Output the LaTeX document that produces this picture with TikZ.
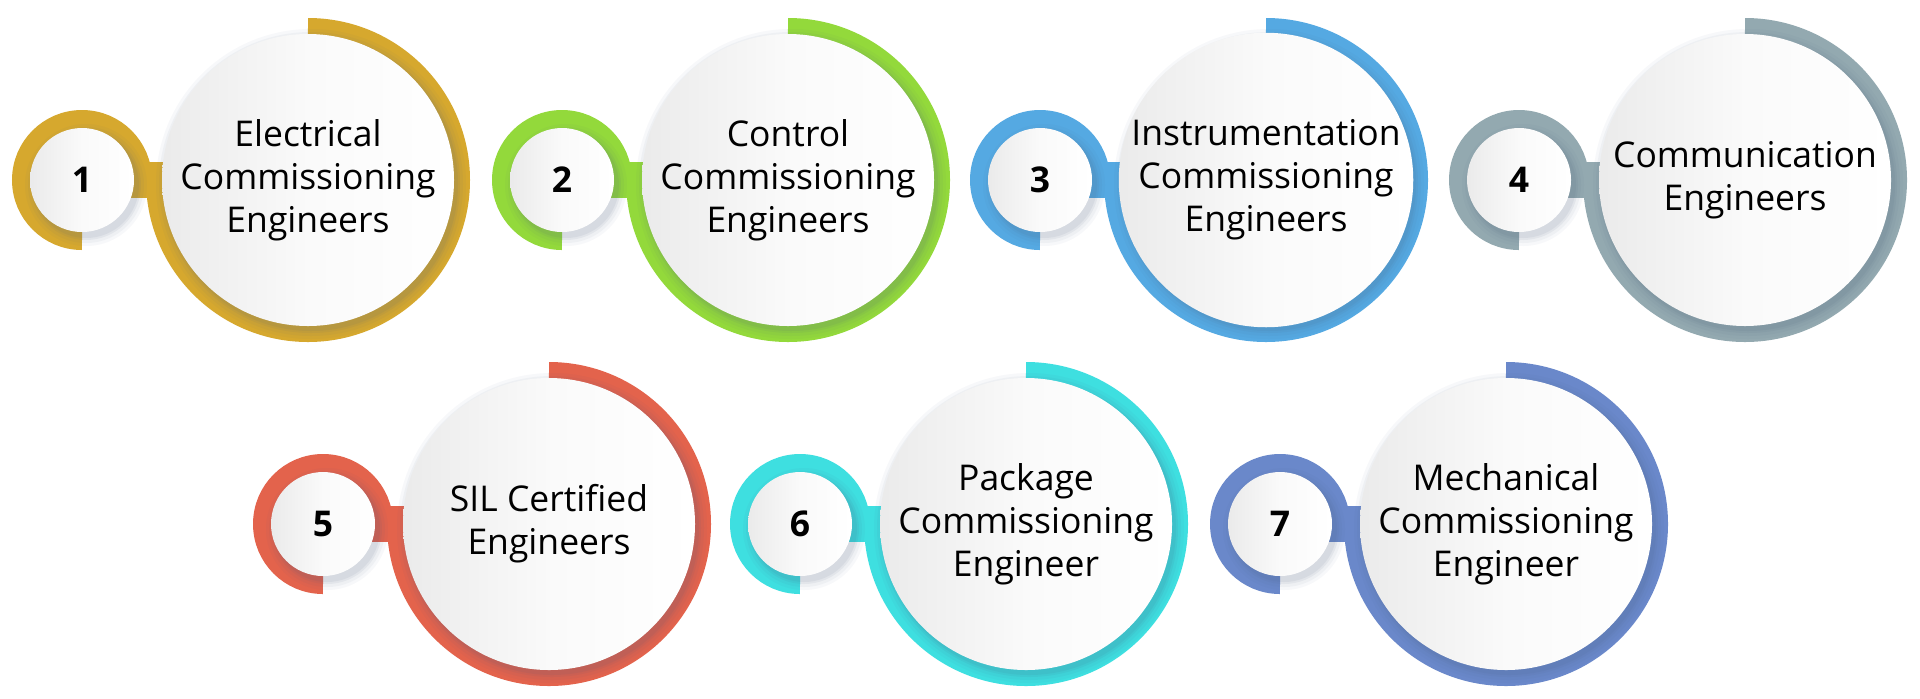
\documentclass[tikz,border=0pt]{standalone}
\usepackage{fontspec}
\setmainfont{Open Sans}
\usetikzlibrary{shadows}
\definecolor{cA}{HTML}{D6A82E}
\definecolor{cB}{HTML}{93D93B}
\definecolor{cC}{HTML}{55A9E2}
\definecolor{cD}{HTML}{93A9B0}
\definecolor{cE}{HTML}{E3634C}
\definecolor{cF}{HTML}{3EDFE0}
\definecolor{cG}{HTML}{6A88CA}
\definecolor{shadowc}{HTML}{4A5F80}
\tikzset{
  whitedisc/.style={circle, inner sep=0pt, outer sep=0pt, draw=none,
    shade, shading=axis, left color=black!8, right color=white, middle color=black!2},
  smallc/.style={whitedisc, minimum size=52pt,
    font=\bfseries\fontsize{17.75pt}{21.5pt}\selectfont},
  bigc/.style={whitedisc, minimum size=146pt, align=center,
    font=\fontsize{17.75pt}{21.5pt}\selectfont},
}
\newcommand\engunit[6]{%
  \begin{scope}[shift={(#2,-#3)}]
    \fill[#4] (0,-18) rectangle (226,18);
    \draw[#4, line width=10pt] (74,0) arc[start angle=180, end angle=450, radius=152];
    \draw[#4, line width=10pt] (0,-60) arc[start angle=270, end angle=0, radius=60];
    \foreach \e/\o in {9/0.04, 6/0.05, 3/0.07, 1/0.08} {
      \fill[shadowc, opacity=\o] (229,-4) circle (146+\e);
      \fill[shadowc, opacity=\o] (4,-5) circle (52+\e);
    }
    \node[smallc] (s#1) at (0,0) {#5};
    \node[bigc] (b#1) at (226,0) {#6};
  \end{scope}}
\begin{document}
\begin{tikzpicture}[x=0.5pt, y=0.5pt]
  \useasboundingbox (0,0) rectangle (1920,-698);
  \fill[white] (0,0) rectangle (1920,-698);
  \engunit{1}{82}{180}{cA}{1}{Electrical\\Commissioning\\Engineers}
  \engunit{2}{562}{180}{cB}{2}{Control\\Commissioning\\Engineers}
  \engunit{3}{1040}{180}{cC}{3}{Instrumentation\\Commissioning\\Engineers}
  \engunit{4}{1519}{180}{cD}{4}{Communication\\Engineers}
  \engunit{5}{323}{524}{cE}{5}{SIL Certified\\Engineers}
  \engunit{6}{800}{524}{cF}{6}{Package\\Commissioning\\Engineer}
  \engunit{7}{1280}{524}{cG}{7}{Mechanical\\Commissioning\\Engineer}
\end{tikzpicture}
\end{document}
